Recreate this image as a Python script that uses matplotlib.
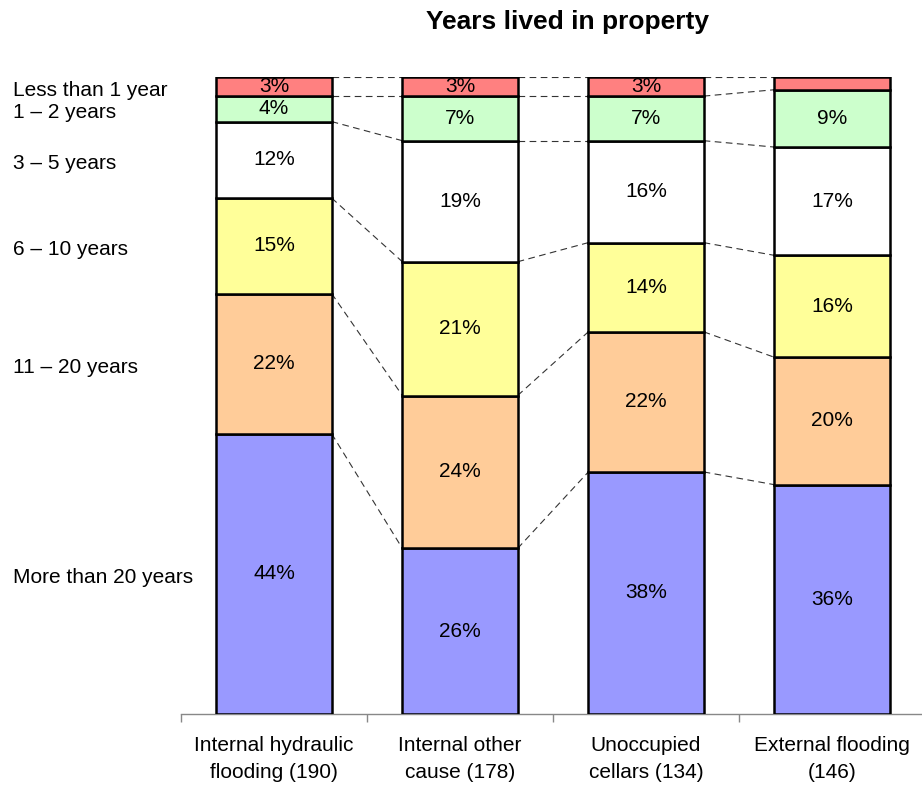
import matplotlib
matplotlib.use("Agg")
import matplotlib.pyplot as plt
import numpy as np

plt.rcParams['font.family'] = ['Liberation Sans', 'DejaVu Sans']

categories = ["Internal hydraulic\nflooding (190)", "Internal other\ncause (178)",
              "Unoccupied\ncellars (134)", "External flooding\n(146)"]
groups = ["More than 20 years", "11 – 20 years", "6 – 10 years",
          "3 – 5 years", "1 – 2 years", "Less than 1 year"]
more_20 = [44, 26, 38, 36]
y11_20 = [22, 24, 22, 20]
y6_10 = [15, 21, 14, 16]
y3_5 = [12, 19, 16, 17]
y1_2 = [4, 7, 7, 9]
less_1 = [3, 3, 3, 2]
colors = ["#9999FF", "#FFCC99", "#FFFF99", "#FFFFFF", "#CCFFCC", "#FF8080"]

series = np.array([more_20, y11_20, y6_10, y3_5, y1_2, less_1], dtype=float)

fig = plt.figure(figsize=(9.22, 7.87), dpi=100)
ax = fig.add_axes([181/922, 73/787, 744/922, 637/787])

x = np.arange(len(categories))
w = 0.62
bottoms = np.zeros(len(categories))
cum = [np.zeros(len(categories))]
for vals, col in zip(series, colors):
    ax.bar(x, vals, w, bottom=bottoms, color=col, edgecolor='black', linewidth=1.8, zorder=3)
    for xi, v, b in zip(x, vals, bottoms):
        if v >= 3:
            ax.text(xi, b + v/2, f"{int(v)}%", ha='center', va='center', fontsize=15, zorder=4)
    bottoms = bottoms + vals
    cum.append(bottoms.copy())

# connector lines
for level in cum[1:]:
    for i in range(len(categories) - 1):
        ax.plot([x[i] + w/2, x[i+1] - w/2], [level[i], level[i+1]],
                color='#333333', linestyle=(0, (6, 4)), linewidth=0.8, zorder=2)

# group labels at left, aligned with first bar segments
for gi, g in enumerate(groups):
    yc = (cum[gi][0] + cum[gi+1][0]) / 2 - 0.6
    ax.text(-0.5 - 168/186, yc, g, ha='left', va='center', fontsize=15, clip_on=False)

ax.set_xlim(-0.5, 3.5)
ax.set_ylim(0, 100)
for s in ['top', 'right', 'left']:
    ax.spines[s].set_visible(False)
ax.spines['bottom'].set_color('#888888')
ax.spines['bottom'].set_linewidth(1.0)
ax.set_yticks([])
ax.set_xticks(x)
ax.set_xticklabels(categories, fontsize=15, linespacing=1.55)
ax.tick_params(axis='x', which='major', length=0, pad=16)
ax.set_xticks(np.arange(-0.5, 3.5, 1), minor=True)
ax.tick_params(axis='x', which='minor', length=6, direction='out', color='#888888', width=1.0)

fig.text(567/922, 1 - 22/787, "Years lived in property", ha='center', va='center',
         fontsize=19, fontweight='bold')

fig.savefig("out.png", dpi=100)
